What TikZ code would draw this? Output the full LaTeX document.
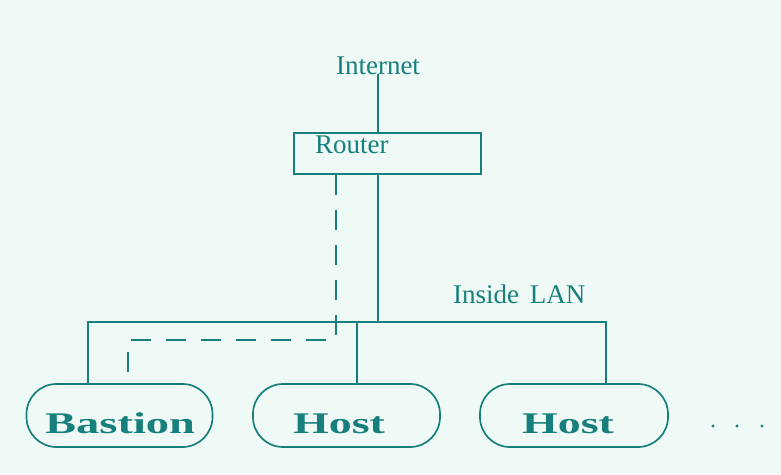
\documentclass[tikz,border=0pt]{standalone}
\usepackage{fontspec}
\setmainfont{Liberation Serif}
\definecolor{ink}{HTML}{17807C}
\definecolor{paper}{HTML}{EFF9F5}
\begin{document}
\begin{tikzpicture}[x=1pt,y=-1pt,
  wire/.style={draw=ink,line width=1.7pt},
  dashwire/.style={wire,dash pattern=on 20pt off 15pt},
  plain/.style={text=ink,font=\fontsize{27}{30}\selectfont,inner sep=0pt},
  boxnode/.style={draw=ink,line width=1.7pt,inner sep=0pt},
  hostbox/.style={boxnode,rounded corners=30pt,minimum width=186pt,minimum height=63pt},
  hostname/.style={text=ink,font=\fontsize{30}{32}\selectfont\bfseries,inner sep=0pt,anchor=base west}
]
\fill[paper] (0,0) rectangle (781,474);
\useasboundingbox (0,0) rectangle (781,474);

% labels and boxes
\node[plain,anchor=base] (internet) at (378,74) {Internet};
\node[boxnode,minimum width=187pt,minimum height=41pt] (router) at (387.5,153.5) {};
\node[plain,anchor=base west] (routertext) at (315,153) {Router};
\node[plain,anchor=base west] (lantext) at (453,303) {Inside\hspace{0.15em} LAN};

\node[hostbox] (bastion) at (119.5,415.5) {};
\node[hostbox,minimum width=187pt] (host1) at (346.5,415.5) {};
\node[hostbox,minimum width=188pt] (host2) at (574,415.5) {};
\node[hostname] (bastiontext) at (45,433) {\scalebox{1.55}[1]{Bastion}};
\node[hostname] (host1text) at (293,433) {\scalebox{1.53}[1]{Host}};
\node[hostname] (host2text) at (522,433) {\scalebox{1.53}[1]{Host}};

% LAN backbone
\coordinate (lanL) at (88,322);
\coordinate (lanR) at (606,322);
\coordinate (lanH) at (357,322);
\draw[wire] (internet.base) -- (internet.base |- router.north);
\draw[wire] (internet.base |- router.south) -- (internet.base |- lanL);
\draw[wire] (lanL |- bastion.north) -- (lanL) -- (lanR) -- (lanR |- host2.north);
\draw[wire] (lanH) -- (lanH |- host1.north);

% dedicated path from router to bastion
\coordinate (bendA) at (336,340);
\coordinate (bendB) at (128,340);
\draw[dashwire] (bendA |- router.south) -- (bendA) -- (bendB) -- (bendB |- bastion.north);

% more hosts
\foreach \x in {713,737,762} \fill[ink] (\x,426) circle (1.6);
\end{tikzpicture}
\end{document}
